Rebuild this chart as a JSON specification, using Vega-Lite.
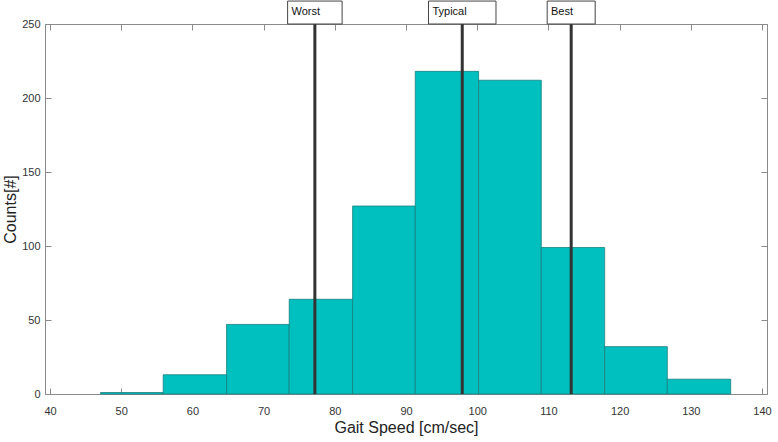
{
  "$schema": "https://vega.github.io/schema/vega-lite/v6.json",
  "autosize": "none",
  "width": 722,
  "height": 370,
  "padding": {"left": 45, "top": 24, "right": 11, "bottom": 48},
  "background": "white",
  "config": {
    "view": {"stroke": null},
    "axis": {
      "domainColor": "#8a8a8a",
      "tickColor": "#8a8a8a",
      "tickSize": -6,
      "labelFont": "Liberation Sans",
      "labelFontSize": 11,
      "labelColor": "#333333",
      "titleFont": "Liberation Sans",
      "titleFontSize": 16,
      "titleFontWeight": "normal",
      "titleColor": "#222222",
      "grid": false
    }
  },
  "datasets": {
    "bins": [
      {"bin_start": 47.1, "bin_end": 55.9, "count": 1},
      {"bin_start": 55.9, "bin_end": 64.8, "count": 13},
      {"bin_start": 64.8, "bin_end": 73.6, "count": 47},
      {"bin_start": 73.6, "bin_end": 82.5, "count": 64},
      {"bin_start": 82.5, "bin_end": 91.3, "count": 127},
      {"bin_start": 91.3, "bin_end": 100.2, "count": 218},
      {"bin_start": 100.2, "bin_end": 109.0, "count": 212},
      {"bin_start": 109.0, "bin_end": 117.9, "count": 99},
      {"bin_start": 117.9, "bin_end": 126.7, "count": 32},
      {"bin_start": 126.7, "bin_end": 135.6, "count": 10}
    ],
    "marks": [
      {"label": "Worst", "speed": 77.2},
      {"label": "Typical", "speed": 97.9},
      {"label": "Best", "speed": 113.2}
    ]
  },
  "layer": [
    {
      "data": {"name": "bins"},
      "mark": {"type": "rect", "fill": "#00BFBF", "stroke": "#17807f", "strokeWidth": 0.8},
      "encoding": {
        "x": {"field": "bin_start", "type": "quantitative",
              "scale": {"domain": [40, 140], "nice": false, "zero": false},
              "axis": {"orient": "bottom", "values": [40,50,60,70,80,90,100,110,120,130,140], "labelPadding": 17, "title": "Gait Speed [cm/sec]", "titlePadding": 3}},
        "x2": {"field": "bin_end"},
        "y": {"field": "count", "type": "quantitative",
              "scale": {"domain": [0, 250], "nice": false},
              "axis": {"orient": "left", "values": [0,50,100,150,200,250], "labelPadding": 11, "title": "Counts[#]", "titlePadding": 3}},
        "y2": {"datum": 0}
      }
    },
    {
      "data": {"name": "marks"},
      "mark": {"type": "rule", "color": "#333333", "strokeWidth": 3},
      "encoding": {
        "x": {"field": "speed", "type": "quantitative",
              "axis": {"orient": "top", "values": [40,50,60,70,80,90,100,110,120,130,140], "labels": false, "title": null}},
        "y": {"datum": 0, "type": "quantitative",
              "axis": {"orient": "right", "values": [0,50,100,150,200,250], "labels": false, "title": null}},
        "y2": {"datum": 250}
      }
    },
    {
      "data": {"name": "marks"},
      "transform": [
        {"calculate": "6.5 * length(datum.label) + 22", "as": "bw"},
        {"calculate": "datum.speed - (datum.bw / 2 - 3.5) / 7.22", "as": "tx"}
      ],
      "layer": [
        {
          "mark": {"type": "bar", "fill": "white", "stroke": "#444444", "strokeWidth": 1},
          "encoding": {
            "x": {"field": "speed", "type": "quantitative", "axis": null},
            "y": {"datum": 250, "type": "quantitative", "axis": null},
            "y2": {"datum": 265.5},
            "size": {"field": "bw", "type": "quantitative", "scale": null, "legend": null}
          }
        },
        {
          "mark": {"type": "text", "align": "left", "baseline": "middle", "font": "Liberation Sans", "fontSize": 11, "color": "#111111"},
          "encoding": {
            "x": {"field": "tx", "type": "quantitative", "axis": null},
            "y": {"datum": 258, "type": "quantitative", "axis": null},
            "text": {"field": "label"}
          }
        }
      ]
    }
  ],
  "resolve": {"axis": {"x": "independent", "y": "independent"}}
}
